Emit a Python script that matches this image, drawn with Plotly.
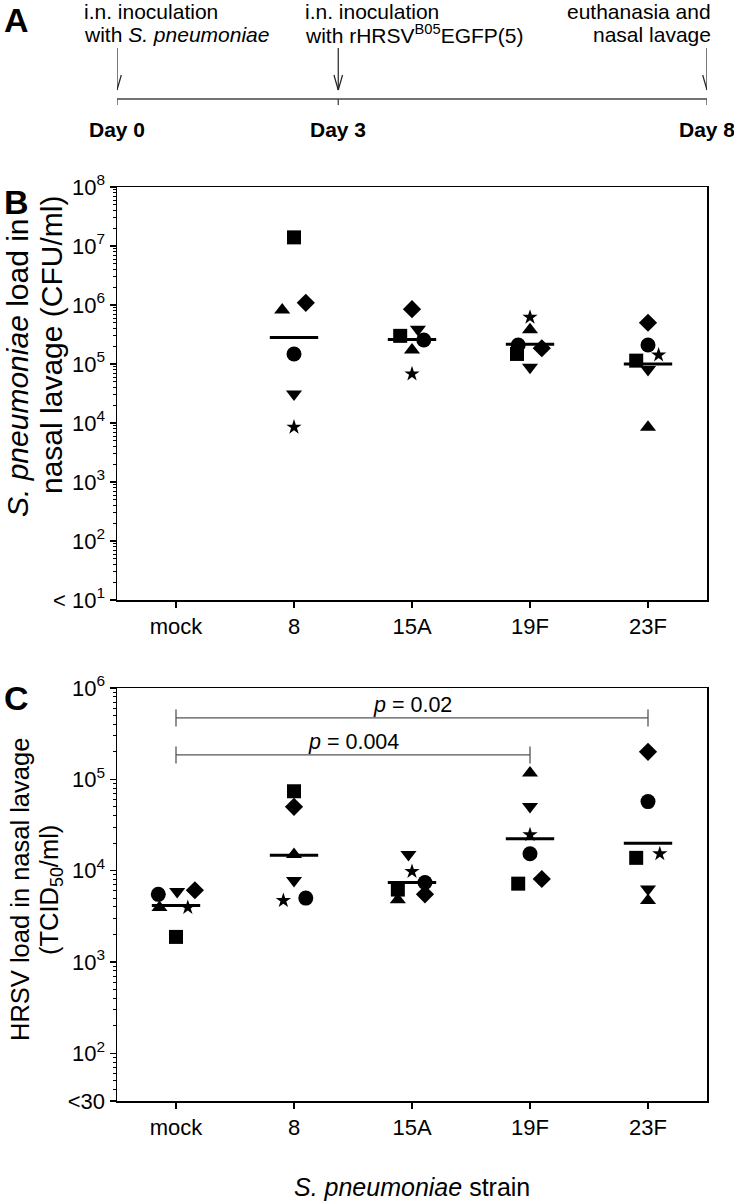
import math
import plotly.graph_objects as go

FONT = "Liberation Sans, Arial, sans-serif"

# ---------------- data ----------------
categories = ["mock", "8", "15A", "19F", "23F"]

# Panel B: S. pneumoniae load in nasal lavage (CFU/ml); None = below detection (mock)
b_circle = [None, 1.48e5, 2.55e5, 2.1e5, 2.1e5]
b_square = [None, 1.4e7, 3.0e5, 1.48e5, 1.14e5]
b_tri_up = [None, 8.2e5, 1.73e5, 3.8e5, 8.5e3]
b_tri_down = [None, 3.1e4, 3.9e5, 8.8e4, 8.1e4]
b_diamond = [None, 1.09e6, 8.5e5, 1.85e5, 5.0e5]
b_star = [None, 8.5e3, 6.8e4, 6.2e5, 1.42e5]
b_means = [None, 2.8e5, 2.6e5, 2.16e5, 1.0e5]

# Panel C: HRSV load in nasal lavage (TCID50/ml)
c_circle = [5.5e3, 5.0e3, 7.4e3, 1.53e4, 5.7e4]
c_square = [1.88e3, 7.4e4, 6.2e3, 7.2e3, 1.38e4]
c_tri_up = [3.95e3, 1.5e4, 4.8e3, 1.17e5, 4.7e3]
c_tri_down = [5.9e3, 7.8e3, 1.5e4, 5.05e4, 6.3e3]
c_diamond = [6.1e3, 5.0e4, 5.5e3, 8.1e3, 2.0e5]
c_star = [3.95e3, 4.7e3, 9.8e3, 2.47e4, 1.53e4]
c_means = [4.14e3, 1.47e4, 7.4e3, 2.24e4, 2.0e4]

# significance brackets in panel C: (from category, to category, level, label)
c_brackets = [("mock", "23F", 4.7e5, "<i>p</i> = 0.02"),
              ("mock", "19F", 1.85e5, "<i>p</i> = 0.004")]

b_ticks = [1e1, 1e2, 1e3, 1e4, 1e5, 1e6, 1e7, 1e8]
b_ticktext = ["< 10<sup>1</sup>", "10<sup>2</sup>", "10<sup>3</sup>", "10<sup>4</sup>",
              "10<sup>5</sup>", "10<sup>6</sup>", "10<sup>7</sup>", "10<sup>8</sup>"]
c_ticks = [30, 1e2, 1e3, 1e4, 1e5, 1e6]
c_ticktext = ["<30", "10<sup>2</sup>", "10<sup>3</sup>", "10<sup>4</sup>",
              "10<sup>5</sup>", "10<sup>6</sup>"]

# Panel A timeline
event_days = [0, 3, 8]
day_labels = ["Day 0", "Day 3", "Day 8"]
event_text = [["i.n. inoculation", "with <i>S. pneumoniae</i>"],
              ["i.n. inoculation", "with rHRSV<sup>B05</sup>EGFP(5)"],
              ["euthanasia and", "nasal lavage"]]

# ---------------- layout helpers (styling / placement only) ----------------
W, H = 734, 1203
PL, PR = 117, 707
B_TOP, B_BOT = 187, 600
C_TOP, C_BOT = 688, 1101


def px(p):
    return p / W


def py(p):
    return 1 - p / H


# horizontal jitter of each animal within its group (category units)
jit_b = {
    "circle": [0, 0, 0.10, -0.10, 0],
    "square": [0, 0, -0.10, -0.11, -0.10],
    "triangle-up": [0, -0.10, 0, 0, 0],
    "triangle-down": [0, 0, 0.05, 0, 0],
    "diamond": [0, 0.10, 0, 0.10, 0],
    "star": [0, 0, 0, 0, 0.09],
}
jit_c = {
    "circle": [-0.15, 0.10, 0.11, 0, 0],
    "square": [0, 0, -0.12, -0.10, -0.10],
    "triangle-up": [-0.14, 0, -0.12, 0, 0],
    "triangle-down": [0.01, 0, -0.03, 0, 0],
    "diamond": [0.16, 0, 0.11, 0.10, 0],
    "star": [0.10, -0.09, 0, 0, 0.10],
}
sizes = {"circle": 15, "square": 14, "triangle-up": 14, "triangle-down": 14,
         "diamond": 14, "star": 11.5}

b_series = {"circle": b_circle, "square": b_square, "triangle-up": b_tri_up,
            "triangle-down": b_tri_down, "diamond": b_diamond, "star": b_star}
c_series = {"circle": c_circle, "square": c_square, "triangle-up": c_tri_up,
            "triangle-down": c_tri_down, "diamond": c_diamond, "star": c_star}

fig = go.Figure()


def add_points(series, jit, xa, ya):
    for sym, vals in series.items():
        xs, ys = [], []
        for i, v in enumerate(vals):
            if v is None:
                continue
            xs.append(i + jit[sym][i])
            ys.append(v)
        fig.add_trace(go.Scatter(
            x=xs, y=ys, mode="markers", xaxis=xa, yaxis=ya, showlegend=False,
            marker=dict(symbol=sym, size=sizes[sym], color="black", line=dict(width=0)),
            hoverinfo="skip"))


def add_means(means, xa, ya):
    xs, ys = [], []
    hw = 0.205
    for i, m in enumerate(means):
        if m is None:
            continue
        xs += [i - hw, i + hw, None]
        ys += [m, m, None]
    fig.add_trace(go.Scatter(x=xs, y=ys, mode="lines", xaxis=xa, yaxis=ya,
                             showlegend=False, line=dict(color="black", width=3),
                             hoverinfo="skip"))


add_points(b_series, jit_b, "x", "y")
add_means(b_means, "x", "y")
add_points(c_series, jit_c, "x2", "y2")
add_means(c_means, "x2", "y2")

# brackets
annotations = []
end = 10 ** 0.093
for a, b, lev, lab in c_brackets:
    i0, i1 = categories.index(a), categories.index(b)
    fig.add_trace(go.Scatter(
        x=[i0, i0, None, i0, i1, None, i1, i1],
        y=[lev / end, lev * end, None, lev, lev, None, lev / end, lev * end],
        mode="lines", xaxis="x2", yaxis="y2", showlegend=False,
        line=dict(color="#555555", width=1.3), hoverinfo="skip"))
    annotations.append(dict(x=(i0 + i1) / 2, y=math.log10(lev), xref="x2", yref="y2",
                            text=lab, showarrow=False, yanchor="bottom", yshift=-1,
                            font=dict(family=FONT, size=21.5, color="black")))

# ---------------- axes ----------------
xdom = [px(PL), px(PR)]
tickfont = dict(family=FONT, size=22, color="black")
common_x = dict(range=[-0.5, 4.5], tickmode="array", tickvals=list(range(len(categories))),
                ticktext=categories, ticks="outside", ticklen=6, tickwidth=1.3,
                tickcolor="black", showline=True, linecolor="black", linewidth=1.5,
                mirror=True, showgrid=False, zeroline=False, tickfont=tickfont,
                domain=xdom, fixedrange=True, automargin=False)
minor = dict(ticks="outside", ticklen=3, tickcolor="black", tickwidth=1,
             tickmode="linear", dtick="D1", showgrid=False)
common_y = dict(type="log", ticks="outside", ticklen=6, tickwidth=1.3, tickcolor="black",
                showline=True, linecolor="black", linewidth=1.5, mirror=True,
                showgrid=False, zeroline=False, tickfont=tickfont, tickmode="array",
                minor=minor, fixedrange=True, automargin=False)

fig.update_layout(
    template="none",
    width=W, height=H, autosize=False, margin=dict(l=0, r=0, t=0, b=0, pad=0, autoexpand=False),
    paper_bgcolor="white", plot_bgcolor="white",
    font=dict(family=FONT, color="black"),
    xaxis=dict(common_x, anchor="y"),
    yaxis=dict(common_y, range=[1, 8], tickvals=b_ticks, ticktext=b_ticktext,
               domain=[py(B_BOT), py(B_TOP)], anchor="x"),
    xaxis2=dict(common_x, anchor="y2"),
    yaxis2=dict(common_y, range=[math.log10(30), 6], tickvals=c_ticks, ticktext=c_ticktext,
                domain=[py(C_BOT), py(C_TOP)], anchor="x2"),
    xaxis3=dict(range=[0, 8], domain=xdom, visible=False, anchor="y3", fixedrange=True,
                automargin=False),
    yaxis3=dict(range=[170, 0], domain=[py(170), 1], visible=False, anchor="x3",
                fixedrange=True, automargin=False),
    showlegend=False,
)

# ---------------- panel A (timeline diagram) ----------------
shapes = []
line_c = "#444444"
shapes.append(dict(type="line", xref="x3", yref="y3", x0=event_days[0], x1=event_days[-1],
                   y0=99, y1=99, line=dict(color=line_c, width=1.5)))
dpp = 8 / (PR - PL)  # days per pixel
for d in event_days:
    shapes.append(dict(type="line", xref="x3", yref="y3", x0=d, x1=d, y0=99, y1=105,
                       line=dict(color=line_c, width=1.3)))
    shapes.append(dict(type="line", xref="x3", yref="y3", x0=d, x1=d, y0=48, y1=90,
                       line=dict(color="#222222", width=1.2)))
    for s in (-1, 1):
        shapes.append(dict(type="line", xref="x3", yref="y3", x0=d + s * 4.3 * dpp, x1=d,
                           y0=75, y1=90, line=dict(color="#222222", width=1.2)))

afont = dict(family=FONT, size=21, color="black")
for d, lab, txt in zip(event_days, day_labels, event_text):
    annotations.append(dict(x=d, y=129, xref="x3", yref="y3", text="<b>" + lab + "</b>",
                            showarrow=False, xanchor="center", yanchor="middle", font=afont))
    if d == event_days[-1]:
        anchor, shift = "right", 6
    else:
        anchor, shift = "left", -35
    for k, t in enumerate(txt):
        annotations.append(dict(x=d, y=[11, 34][k], xref="x3", yref="y3", text=t,
                                showarrow=False, xanchor=anchor, xshift=shift,
                                yanchor="middle", font=afont))

# panel letters
for let, yy in (("A", 20), ("B", 202), ("C", 698)):
    annotations.append(dict(x=px(16), y=py(yy), xref="paper", yref="paper",
                            text="<b>" + let + "</b>", showarrow=False,
                            xanchor="center", yanchor="middle",
                            font=dict(family=FONT, size=34, color="black")))

# axis titles
tfont_b = dict(family=FONT, size=30, color="black")
tfont_c = dict(family=FONT, size=25.5, color="black")
for t, xx, yy in (("<i>S. pneumoniae</i> load in", 18, 368),
                  ("nasal lavage (CFU/ml)", 51, 345)):
    annotations.append(dict(x=px(xx), y=py(yy), xref="paper", yref="paper", text=t,
                            textangle=-90, showarrow=False, xanchor="center",
                            yanchor="middle", font=tfont_b))
for t, xx in (("HRSV load in nasal lavage", 20), ("(TCID<sub>50</sub>/ml)", 51)):
    annotations.append(dict(x=px(xx), y=py(890), xref="paper", yref="paper", text=t,
                            textangle=-90, showarrow=False, xanchor="center",
                            yanchor="middle", font=tfont_c))
annotations.append(dict(x=px((PL + PR) / 2), y=py(1187), xref="paper", yref="paper",
                        text="<i>S. pneumoniae</i> strain", showarrow=False,
                        xanchor="center", yanchor="middle",
                        font=dict(family=FONT, size=25, color="black")))

fig.update_layout(shapes=shapes, annotations=annotations)

fig.write_html("out.html", include_plotlyjs=True,
               config={"displayModeBar": False, "staticPlot": True, "responsive": False},
               post_script="document.body.style.margin='0';document.body.style.overflow='hidden';")
